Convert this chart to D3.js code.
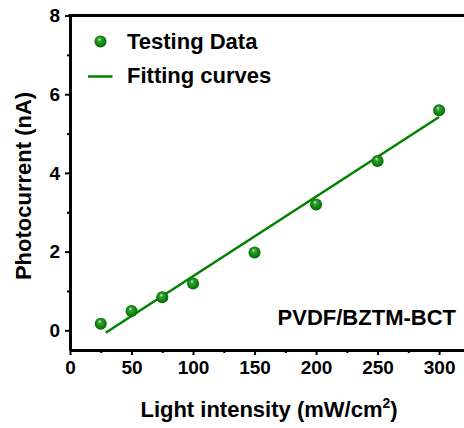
<!DOCTYPE html>
<html lang="en">
<head>
    <meta charset="UTF-8">
    <script src="https://d3js.org/d3.v7.min.js"></script>
    <style>
        body { margin: 0; background: #fff; }
        svg text { font-family: "Liberation Sans", Arial, sans-serif; font-weight: bold; fill: #000; }
        .tick text { font-size: 19px; }
        .axis path, .axis line { stroke: #000; }
    </style>
</head>
<body>
    <svg id="chart" width="464" height="428"></svg>
    <script>
        // measured points
        const intensity = [25, 50, 75, 100, 150, 200, 250, 300];
        const current = [0.17, 0.49, 0.84, 1.19, 1.98, 3.2, 4.3, 5.59];
        // linear fit end points
        const fitX = [29, 300];
        const fitY = [-0.06, 5.42];
        const xTicks = [0, 50, 100, 150, 200, 250, 300];
        const xMinor = [25, 75, 125, 175, 225, 275];
        const yTicks = [0, 2, 4, 6, 8];
        const yMinor = [1, 3, 5, 7];
        const legendLabels = ["Testing Data", "Fitting curves"];
        const sampleLabel = "PVDF/BZTM-BCT";

        const svg = d3.select("#chart");
        const green = "#008000";

        const x = d3.scaleLinear().domain([0, 330]).range([70, 476]);
        const y = d3.scaleLinear().domain([-0.5, 8]).range([350, 15.5]);

        const defs = svg.append("defs");
        const grad = defs.append("radialGradient")
            .attr("id", "ball")
            .attr("cx", "0.5").attr("cy", "0.5").attr("r", "0.55")
            .attr("fx", "0.4").attr("fy", "0.3");
        grad.append("stop").attr("offset", "0%").attr("stop-color", "#e8f5e8");
        grad.append("stop").attr("offset", "25%").attr("stop-color", "#3aa03a");
        grad.append("stop").attr("offset", "70%").attr("stop-color", "#0a820a");
        grad.append("stop").attr("offset", "100%").attr("stop-color", "#005a00");

        // minor ticks
        svg.append("g")
            .attr("class", "axis")
            .attr("transform", `translate(0,${y(-0.5)})`)
            .call(d3.axisBottom(x).tickValues(xMinor).tickSize(3).tickFormat(""))
            .call(g => g.select(".domain").remove())
            .selectAll("line").attr("stroke-width", 2);
        svg.append("g")
            .attr("class", "axis")
            .attr("transform", `translate(${x(0)},0)`)
            .call(d3.axisLeft(y).tickValues(yMinor).tickSize(3).tickFormat(""))
            .call(g => g.select(".domain").remove())
            .selectAll("line").attr("stroke-width", 2);

        // x axis
        const xAxis = svg.append("g")
            .attr("class", "axis")
            .attr("transform", `translate(0,${y(-0.5)})`)
            .call(d3.axisBottom(x).tickValues(xTicks).tickSize(5).tickSizeOuter(0).tickPadding(6));
        xAxis.select(".domain").attr("stroke-width", 3);
        xAxis.selectAll(".tick line").attr("stroke-width", 2);

        // y axis
        const yAxis = svg.append("g")
            .attr("class", "axis")
            .attr("transform", `translate(${x(0)},0)`)
            .call(d3.axisLeft(y).tickValues(yTicks).tickSize(5).tickSizeOuter(0).tickPadding(5));
        yAxis.select(".domain").attr("stroke-width", 3);
        yAxis.selectAll(".tick line").attr("stroke-width", 2);

        // top frame line
        svg.append("line")
            .attr("x1", x(0) - 1.5).attr("x2", 464)
            .attr("y1", y(8)).attr("y2", y(8))
            .attr("stroke", "#000").attr("stroke-width", 3);

        // fit line
        const line = d3.line().x((d, i) => x(fitX[i])).y(d => y(d));
        svg.append("path")
            .attr("d", line(fitY))
            .attr("fill", "none")
            .attr("stroke", green)
            .attr("stroke-width", 2.5);

        // data balls
        svg.append("g").selectAll("circle")
            .data(intensity)
            .join("circle")
            .attr("cx", d => x(d))
            .attr("cy", (d, i) => y(current[i]))
            .attr("r", 6)
            .attr("fill", "url(#ball)");

        // legend
        svg.append("circle")
            .attr("cx", 100.5).attr("cy", 41.5).attr("r", 6)
            .attr("fill", "url(#ball)");
        svg.append("line")
            .attr("x1", 88).attr("x2", 112.5)
            .attr("y1", 76.5).attr("y2", 76.5)
            .attr("stroke", green).attr("stroke-width", 2.5);
        svg.selectAll("text.legend")
            .data(legendLabels)
            .join("text")
            .attr("class", "legend")
            .attr("x", 127)
            .attr("y", (d, i) => 48.5 + i * 34)
            .style("font-size", "22px")
            .text(d => d);

        // sample label
        svg.append("text")
            .attr("x", 456).attr("y", 325)
            .attr("text-anchor", "end")
            .style("font-size", "22px")
            .text(sampleLabel);

        // axis titles
        const xt = svg.append("text")
            .attr("x", 269).attr("y", 416.5)
            .attr("text-anchor", "middle")
            .style("font-size", "22px");
        xt.append("tspan").text("Light intensity (mW/cm");
        xt.append("tspan").attr("dy", -9).style("font-size", "14px").text("2");
        xt.append("tspan").attr("dy", 9).text(")");

        svg.append("text")
            .attr("transform", "translate(31,186) rotate(-90)")
            .attr("text-anchor", "middle")
            .style("font-size", "22px")
            .text("Photocurrent (nA)");
    </script>
</body>
</html>
